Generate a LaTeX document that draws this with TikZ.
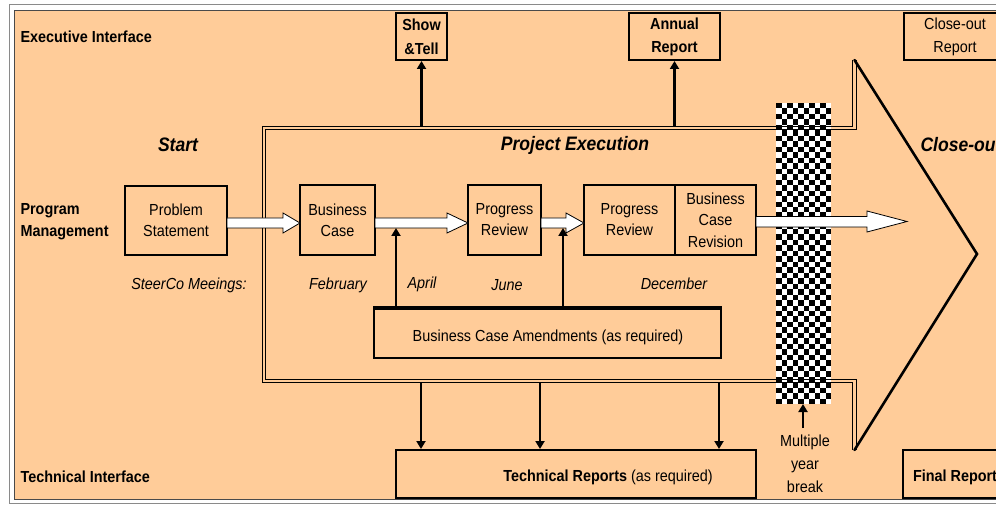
\documentclass[tikz,border=0pt]{standalone}
\usepackage{fontspec}
\setmainfont[FakeStretch=0.9]{Liberation Sans}
\usetikzlibrary{arrows.meta,calc}
\definecolor{peach}{HTML}{FFCC99}
\definecolor{framedark}{HTML}{4A4A4A}
\definecolor{framelight}{HTML}{8A8A8A}

% white block arrow along y = #3, from x = #1 to tip x = #2, head length #4
\newcommand\blockarrow[4]{%
  \path[blockar] (#1,#3-5) -- (#2-#4,#3-5) -- (#2-#4,#3-10) -- (#2,#3)
    -- (#2-#4,#3+10) -- (#2-#4,#3+5) -- (#1,#3+5) -- cycle;}

\begin{document}
\begin{tikzpicture}[x=1pt,y=-1pt,
  font=\fontsize{16}{21}\selectfont,
  box/.style={draw=black, line width=2pt, fill=peach, align=center, inner sep=0pt},
  conn/.style={line width=2.4pt, -{Triangle[length=8pt,width=9pt]}},
  blockar/.style={draw=black, line width=0.8pt, fill=white, line join=miter},
  rowlabel/.style={anchor=west, align=left, font=\fontsize{16}{22}\selectfont\bfseries},
  phase/.style={font=\fontsize{19.5}{23}\selectfont\bfseries\itshape},
  month/.style={font=\fontsize{16}{21}\selectfont\itshape},
  shaftline/.style={draw=black, line width=0.9pt, line join=miter},
  headline/.style={draw=black, line width=2.6pt, line join=miter, line cap=round}
]
\useasboundingbox (0,0) rectangle (996,505);
\clip (0,0) rectangle (996,505);

% page and frame
\fill[white] (0,0) rectangle (996,505);
\draw[framelight, line width=1pt] (9.5,5) rectangle (1010,503);
\draw[framedark, line width=1.6pt, fill=peach] (14.5,10.5) rectangle (1010,499.5);

% checkered band marking the multiple year break
\fill[white] (776,103) rectangle (831,404);
\foreach \i in {0,...,9}{
  \foreach \j in {0,...,54}{
    \pgfmathtruncatemacro\chkpar{mod(\i+\j,2)}
    \ifnum\chkpar=0
      \fill[black] (776+\i*5.5,103+\j*5.473) rectangle ++(5.5,5.473);
    \fi}}
\coordinate (chkbot) at (803,404);

% big project arrow: double-lined shaft, heavy head
\coordinate (htop) at (854.5,60);
\coordinate (tip)  at (977,254);
\coordinate (hbot) at (854.5,450);
\draw[shaftline] (852.5,60) -- (852.5,126.5) -- (262,126.5) -- (262,382.5) -- (852.5,382.5) -- (852.5,450);
\draw[shaftline] (856.5,60) -- (856.5,129.5) -- (265,129.5) -- (265,379.5) -- (856.5,379.5) -- (856.5,450);
\draw[headline] (htop) -- (tip) -- (hbot);

% executive interface boxes
\node[box, minimum width=51, minimum height=47, font=\fontsize{16}{24}\selectfont\bfseries] (st) at (421.5,36.5) {Show\\\&Tell};
\node[box, minimum width=91, minimum height=47, font=\fontsize{16}{23}\selectfont\bfseries] (ar) at (674.5,36.5) {Annual\\Report};
\node[box, minimum width=102, minimum height=47, font=\fontsize{16}{23}\selectfont] (cr) at (955,36.5) {Close-out\\Report};

% program management boxes
\node[box, minimum width=102, minimum height=69] (ps) at (176,220.5) {Problem\\Statement};
\node[box, minimum width=75, minimum height=70] (bc) at (337.5,220) {Business\\Case};
\node[box, minimum width=73, minimum height=70] (pr) at (504.5,220) {Progress\\Review};
\node[box, minimum width=91, minimum height=70] (pr2) at (629.5,220) {Progress\\Review};
\node[box, minimum width=81, minimum height=70, font=\fontsize{16}{21.5}\selectfont] (bcr) at (715.5,220) {Business\\Case\\Revision};

% amendments and technical reports
\node[box, minimum width=347, minimum height=49] (bca) at (547.5,333.5) {};
\draw[line width=3.4pt] (bca.north west) -- (bca.north east);
\node (bcatext) at (548,337) {Business Case Amendments (as required)};
\node[box, minimum width=360, minimum height=48] (tr) at (576,474) {};
\node (trtext) at (608,477) {\textbf{Technical Reports} (as required)};
\node[box, minimum width=104, minimum height=48] (fr) at (955,474) {};
\node[font=\fontsize{16}{21}\selectfont\bfseries] (frtext) at (955,477) {Final Report};

% flow of block arrows through the program
\blockarrow{227}{300}{223}{17}
\blockarrow{375}{468}{223}{21}
\blockarrow{541}{584}{223}{18}
\path[blockar] (756,216.5) -- (867,216.5) -- (867,211) -- (907,221.5)
  -- (867,232) -- (867,227) -- (756,227) -- cycle;

% reports leaving the project arrow
\coordinate (u1) at (421.5,126);
\coordinate (u2) at (674.5,126);
\draw[conn] (u1) -- (u1 |- st.south);
\draw[conn] (u2) -- (u2 |- ar.south);
\coordinate (d1) at (421,383);
\coordinate (d2) at (540,383);
\coordinate (d3) at (719,383);
\draw[conn] (d1) -- (d1 |- tr.north);
\draw[conn] (d2) -- (d2 |- tr.north);
\draw[conn] (d3) -- (d3 |- tr.north);

% amendments feeding the flow
\coordinate (a1) at (396,228);
\coordinate (a2) at (563,228);
\draw[conn] (a1 |- bca.north) -- (a1);
\draw[conn] (a2 |- bca.north) -- (a2);

% row labels
\node[rowlabel] (exi) at (17,37) {Executive Interface};
\node[rowlabel] (pgm) at (17,222) {Program\\Management};
\node[rowlabel] (tei) at (17,477) {Technical Interface};

% phase titles
\node[phase] (start) at (178,145) {Start};
\node[phase] (pexe) at (575,145) {Project Execution};
\node[phase, anchor=west] (clo) at (917,145) {Close-out};

% meeting months
\node[month] (steer) at (189,285) {SteerCo Meeings:};
\node[month] (feb) at (338,285) {February};
\node[month] (apr) at (422,284) {April};
\node[month] (jun) at (507,285) {June};
\node[month] (dec) at (674,284) {December};

% break note
\node[align=center, font=\fontsize{16}{23}\selectfont] (myb) at (805,464) {Multiple\\year\\break};
\coordinate (mybtop) at (803,428);
\draw[conn] (mybtop) -- (chkbot);
\end{tikzpicture}
\end{document}
